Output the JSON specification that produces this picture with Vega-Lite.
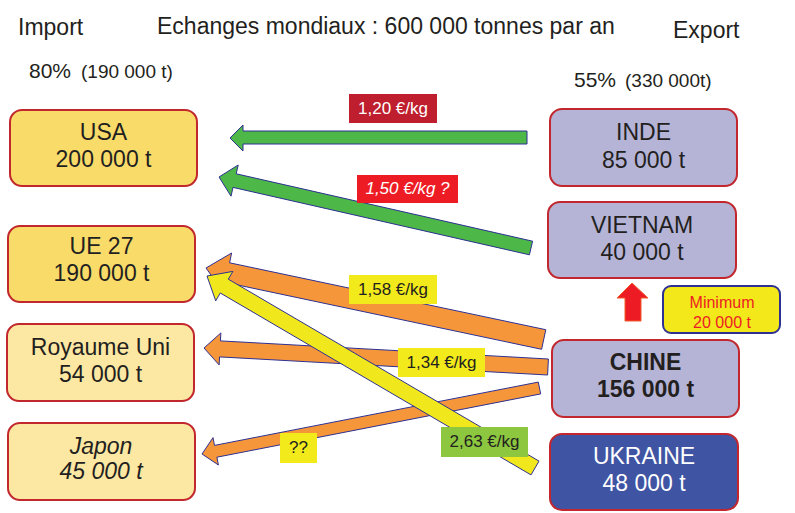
{
  "$schema": "https://vega.github.io/schema/vega-lite/v6.json",
  "width": 795,
  "height": 513,
  "padding": 0,
  "autosize": {"type": "fit", "contains": "padding"},
  "background": "#FFFFFF",
  "config": {"view": {"stroke": null}, "text": {"font": "Liberation Sans"}},
  "resolve": {"scale": {"fill": "independent", "stroke": "independent", "color": "independent"}},
  "datasets": {
    "boxes": [
      {"name": "USA", "x1": 10, "x2": 197, "y1": 110, "y2": 186, "kind": "imp1"},
      {"name": "UE 27", "x1": 8, "x2": 195, "y1": 226, "y2": 302, "kind": "imp1"},
      {"name": "Royaume Uni", "x1": 7, "x2": 194, "y1": 324, "y2": 401, "kind": "imp2"},
      {"name": "Japon", "x1": 8, "x2": 195, "y1": 423, "y2": 500, "kind": "imp2"},
      {"name": "INDE", "x1": 550, "x2": 737, "y1": 109, "y2": 186, "kind": "exp"},
      {"name": "VIETNAM", "x1": 548, "x2": 736, "y1": 202, "y2": 278, "kind": "exp"},
      {"name": "CHINE", "x1": 552, "x2": 739, "y1": 340, "y2": 417, "kind": "exp"},
      {"name": "UKRAINE", "x1": 550, "x2": 738, "y1": 434, "y2": 510, "kind": "ukr"}
    ],
    "minbox": [
      {"x1": 663, "x2": 780, "y1": 286, "y2": 333, "kind": "min"}
    ],
    "arrows": [
      {"id": "inde-usa", "kind": "green", "ord": 1, "x": 527, "y": 131},
      {"id": "inde-usa", "kind": "green", "ord": 2, "x": 243, "y": 131},
      {"id": "inde-usa", "kind": "green", "ord": 3, "x": 243, "y": 125},
      {"id": "inde-usa", "kind": "green", "ord": 4, "x": 230, "y": 138},
      {"id": "inde-usa", "kind": "green", "ord": 5, "x": 243, "y": 151},
      {"id": "inde-usa", "kind": "green", "ord": 6, "x": 243, "y": 144},
      {"id": "inde-usa", "kind": "green", "ord": 7, "x": 527, "y": 144},
      {"id": "inde-usa", "kind": "green", "ord": 8, "x": 527, "y": 131},

      {"id": "vn-usa", "kind": "green", "ord": 1, "x": 532.6, "y": 241.2},
      {"id": "vn-usa", "kind": "green", "ord": 2, "x": 236.2, "y": 173.8},
      {"id": "vn-usa", "kind": "green", "ord": 3, "x": 238.2, "y": 165.0},
      {"id": "vn-usa", "kind": "green", "ord": 4, "x": 219, "y": 177},
      {"id": "vn-usa", "kind": "green", "ord": 5, "x": 231, "y": 196.2},
      {"id": "vn-usa", "kind": "green", "ord": 6, "x": 233, "y": 187.4},
      {"id": "vn-usa", "kind": "green", "ord": 7, "x": 529.4, "y": 254.8},
      {"id": "vn-usa", "kind": "green", "ord": 8, "x": 532.6, "y": 241.2},

      {"id": "cn-ue", "kind": "orange", "ord": 1, "x": 545.8, "y": 329.7},
      {"id": "cn-ue", "kind": "orange", "ord": 2, "x": 229.6, "y": 262.8},
      {"id": "cn-ue", "kind": "orange", "ord": 3, "x": 231.6, "y": 253.0},
      {"id": "cn-ue", "kind": "orange", "ord": 4, "x": 206, "y": 268},
      {"id": "cn-ue", "kind": "orange", "ord": 5, "x": 223.4, "y": 292.2},
      {"id": "cn-ue", "kind": "orange", "ord": 6, "x": 225.4, "y": 282.4},
      {"id": "cn-ue", "kind": "orange", "ord": 7, "x": 541.6, "y": 349.3},
      {"id": "cn-ue", "kind": "orange", "ord": 8, "x": 545.8, "y": 329.7},

      {"id": "cn-ru", "kind": "orange", "ord": 1, "x": 548.4, "y": 359.0},
      {"id": "cn-ru", "kind": "orange", "ord": 2, "x": 220.4, "y": 340.9},
      {"id": "cn-ru", "kind": "orange", "ord": 3, "x": 220.9, "y": 332.9},
      {"id": "cn-ru", "kind": "orange", "ord": 4, "x": 204, "y": 348},
      {"id": "cn-ru", "kind": "orange", "ord": 5, "x": 219.1, "y": 364.9},
      {"id": "cn-ru", "kind": "orange", "ord": 6, "x": 219.6, "y": 356.9},
      {"id": "cn-ru", "kind": "orange", "ord": 7, "x": 547.6, "y": 375.0},
      {"id": "cn-ru", "kind": "orange", "ord": 8, "x": 548.4, "y": 359.0},

      {"id": "cn-jp", "kind": "orange", "ord": 1, "x": 538.3, "y": 382.1},
      {"id": "cn-jp", "kind": "orange", "ord": 2, "x": 214.5, "y": 445.4},
      {"id": "cn-jp", "kind": "orange", "ord": 3, "x": 213.0, "y": 437.6},
      {"id": "cn-jp", "kind": "orange", "ord": 4, "x": 202, "y": 454},
      {"id": "cn-jp", "kind": "orange", "ord": 5, "x": 218.4, "y": 465.0},
      {"id": "cn-jp", "kind": "orange", "ord": 6, "x": 216.9, "y": 457.2},
      {"id": "cn-jp", "kind": "orange", "ord": 7, "x": 540.7, "y": 393.9},
      {"id": "cn-jp", "kind": "orange", "ord": 8, "x": 538.3, "y": 382.1},

      {"id": "vn-up", "kind": "red", "ord": 1, "x": 625, "y": 321},
      {"id": "vn-up", "kind": "red", "ord": 2, "x": 625, "y": 298},
      {"id": "vn-up", "kind": "red", "ord": 3, "x": 617, "y": 298},
      {"id": "vn-up", "kind": "red", "ord": 4, "x": 632, "y": 283},
      {"id": "vn-up", "kind": "red", "ord": 5, "x": 648, "y": 298},
      {"id": "vn-up", "kind": "red", "ord": 6, "x": 641, "y": 298},
      {"id": "vn-up", "kind": "red", "ord": 7, "x": 641, "y": 321},
      {"id": "vn-up", "kind": "red", "ord": 8, "x": 625, "y": 321},

      {"id": "ua-ue", "kind": "yellow", "ord": 1, "x": 539.0, "y": 461.1},
      {"id": "ua-ue", "kind": "yellow", "ord": 2, "x": 228.3, "y": 279.2},
      {"id": "ua-ue", "kind": "yellow", "ord": 3, "x": 232.9, "y": 271.4},
      {"id": "ua-ue", "kind": "yellow", "ord": 4, "x": 207, "y": 276},
      {"id": "ua-ue", "kind": "yellow", "ord": 5, "x": 215.7, "y": 300.8},
      {"id": "ua-ue", "kind": "yellow", "ord": 6, "x": 220.3, "y": 293.0},
      {"id": "ua-ue", "kind": "yellow", "ord": 7, "x": 531.0, "y": 474.9},
      {"id": "ua-ue", "kind": "yellow", "ord": 8, "x": 539.0, "y": 461.1}
    ],
    "tags": [
      {"label": "1,20 €/kg", "x1": 349, "x2": 437, "y1": 94, "y2": 123, "cx": 393, "cy": 108.5, "kind": "darkred"},
      {"label": "1,50 €/kg ?", "x1": 357, "x2": 458, "y1": 175, "y2": 203, "cx": 407.5, "cy": 189, "kind": "red"},
      {"label": "1,58 €/kg", "x1": 349, "x2": 437, "y1": 275, "y2": 304, "cx": 393, "cy": 289.5, "kind": "yellow"},
      {"label": "1,34 €/kg", "x1": 398, "x2": 485, "y1": 348, "y2": 377, "cx": 441.5, "cy": 362.5, "kind": "yellow"},
      {"label": "2,63 €/kg", "x1": 441, "x2": 528, "y1": 427, "y2": 457, "cx": 484.5, "cy": 442, "kind": "green"},
      {"label": "??", "x1": 280, "x2": 317, "y1": 433, "y2": 463, "cx": 298.5, "cy": 448, "kind": "yellow"}
    ],
    "boxtext": [
      {"box": "USA", "text": "USA", "x": 103.5, "y": 133},
      {"box": "USA", "text": "200 000 t", "x": 103.5, "y": 160},
      {"box": "UE 27", "text": "UE 27", "x": 101.5, "y": 247},
      {"box": "UE 27", "text": "190 000 t", "x": 101.5, "y": 274},
      {"box": "Royaume Uni", "text": "Royaume Uni", "x": 100.5, "y": 348},
      {"box": "Royaume Uni", "text": "54 000 t", "x": 100.5, "y": 375},
      {"box": "Japon", "text": "Japon", "x": 101, "y": 447},
      {"box": "Japon", "text": "45 000 t", "x": 101, "y": 472},
      {"box": "INDE", "text": "INDE", "x": 643.5, "y": 133},
      {"box": "INDE", "text": "85 000 t", "x": 643.5, "y": 161},
      {"box": "VIETNAM", "text": "VIETNAM", "x": 642, "y": 226},
      {"box": "VIETNAM", "text": "40 000 t", "x": 642, "y": 253},
      {"box": "CHINE", "text": "CHINE", "x": 645.5, "y": 363},
      {"box": "CHINE", "text": "156 000 t", "x": 645.5, "y": 390},
      {"box": "UKRAINE", "text": "UKRAINE", "x": 644, "y": 457},
      {"box": "UKRAINE", "text": "48 000 t", "x": 644, "y": 484},
      {"box": "Minimum", "text": "Minimum", "x": 722, "y": 303},
      {"box": "Minimum", "text": "20 000 t", "x": 722, "y": 323}
    ],
    "header": [
      {"text": "Import", "x": 18, "y": 35, "level": "h1"},
      {"text": "Echanges mondiaux : 600 000 tonnes par an", "x": 157, "y": 34, "level": "h1"},
      {"text": "Export", "x": 673, "y": 38, "level": "h1"},
      {"text": "80%", "x": 29, "y": 78, "level": "h2"},
      {"text": "(190 000 t)", "x": 81, "y": 78, "level": "h3"},
      {"text": "55%", "x": 574, "y": 87, "level": "h2"},
      {"text": "(330 000t)", "x": 625, "y": 87, "level": "h3"}
    ]
  },
  "layer": [
    {
      "data": {"name": "boxes"},
      "mark": {"type": "rect", "cornerRadius": 12, "strokeWidth": 2, "stroke": "#C1272D"},
      "encoding": {
        "x": {"field": "x1", "type": "quantitative", "scale": {"domain": [0, 795], "nice": false, "zero": false}, "axis": null},
        "x2": {"field": "x2"},
        "y": {"field": "y1", "type": "quantitative", "scale": {"domain": [0, 513], "nice": false, "zero": false, "reverse": true}, "axis": null},
        "y2": {"field": "y2"},
        "fill": {"field": "kind", "type": "nominal", "scale": {"domain": ["imp1", "imp2", "exp", "ukr"], "range": ["#F9DB69", "#FCE8A3", "#B5B4D7", "#3F54A3"]}, "legend": null}
      }
    },
    {
      "data": {"name": "minbox"},
      "mark": {"type": "rect", "cornerRadius": 8, "strokeWidth": 2, "stroke": "#2E3192"},
      "encoding": {
        "x": {"field": "x1", "type": "quantitative", "scale": {"domain": [0, 795], "nice": false, "zero": false}, "axis": null},
        "x2": {"field": "x2"},
        "y": {"field": "y1", "type": "quantitative", "scale": {"domain": [0, 513], "nice": false, "zero": false, "reverse": true}, "axis": null},
        "y2": {"field": "y2"},
        "fill": {"field": "kind", "type": "nominal", "scale": {"domain": ["min"], "range": ["#F2E81A"]}, "legend": null}
      }
    },
    {
      "data": {"name": "arrows"},
      "transform": [{"filter": "datum.kind != 'yellow'"}],
      "mark": {"type": "line", "strokeWidth": 1, "strokeJoin": "miter", "interpolate": "linear"},
      "encoding": {
        "x": {"field": "x", "type": "quantitative", "scale": {"domain": [0, 795], "nice": false, "zero": false}, "axis": null},
        "y": {"field": "y", "type": "quantitative", "scale": {"domain": [0, 513], "nice": false, "zero": false, "reverse": true}, "axis": null},
        "detail": {"field": "id"},
        "order": {"field": "ord", "type": "quantitative"},
        "fill": {"field": "kind", "type": "nominal", "scale": {"domain": ["green", "orange", "red"], "range": ["#4DB748", "#F6963A", "#ED1C24"]}, "legend": null},
        "stroke": {"field": "kind", "type": "nominal", "scale": {"domain": ["green", "orange", "red"], "range": ["#2E3192", "#2E3192", "#F15A29"]}, "legend": null}
      }
    },
    {
      "data": {"name": "arrows"},
      "transform": [{"filter": "datum.kind == 'yellow'"}],
      "mark": {"type": "line", "strokeWidth": 1, "strokeJoin": "miter", "interpolate": "linear"},
      "encoding": {
        "x": {"field": "x", "type": "quantitative", "scale": {"domain": [0, 795], "nice": false, "zero": false}, "axis": null},
        "y": {"field": "y", "type": "quantitative", "scale": {"domain": [0, 513], "nice": false, "zero": false, "reverse": true}, "axis": null},
        "detail": {"field": "id"},
        "order": {"field": "ord", "type": "quantitative"},
        "fill": {"field": "kind", "type": "nominal", "scale": {"domain": ["yellow"], "range": ["#F0E81C"]}, "legend": null},
        "stroke": {"field": "kind", "type": "nominal", "scale": {"domain": ["yellow"], "range": ["#2E3192"]}, "legend": null}
      }
    },
    {
      "data": {"name": "tags"},
      "mark": {"type": "rect"},
      "encoding": {
        "x": {"field": "x1", "type": "quantitative", "scale": {"domain": [0, 795], "nice": false, "zero": false}, "axis": null},
        "x2": {"field": "x2"},
        "y": {"field": "y1", "type": "quantitative", "scale": {"domain": [0, 513], "nice": false, "zero": false, "reverse": true}, "axis": null},
        "y2": {"field": "y2"},
        "fill": {"field": "kind", "type": "nominal", "scale": {"domain": ["darkred", "red", "yellow", "green"], "range": ["#BE1E2D", "#ED1C24", "#F2EA1A", "#8DC63F"]}, "legend": null}
      }
    },
    {
      "data": {"name": "tags"},
      "transform": [{"filter": "datum.label != '1,50 €/kg ?'"}],
      "mark": {"type": "text", "fontSize": 17, "align": "center", "baseline": "middle"},
      "encoding": {
        "x": {"field": "cx", "type": "quantitative", "scale": {"domain": [0, 795], "nice": false, "zero": false}, "axis": null},
        "y": {"field": "cy", "type": "quantitative", "scale": {"domain": [0, 513], "nice": false, "zero": false, "reverse": true}, "axis": null},
        "text": {"field": "label"},
        "color": {"field": "kind", "type": "nominal", "scale": {"domain": ["darkred", "red", "yellow", "green"], "range": ["#FFFFFF", "#FFFFFF", "#231F20", "#231F20"]}, "legend": null}
      }
    },
    {
      "data": {"name": "tags"},
      "transform": [{"filter": "datum.label == '1,50 €/kg ?'"}],
      "mark": {"type": "text", "fontSize": 17, "fontStyle": "italic", "align": "center", "baseline": "middle", "color": "#FFFFFF"},
      "encoding": {
        "x": {"field": "cx", "type": "quantitative", "scale": {"domain": [0, 795], "nice": false, "zero": false}, "axis": null},
        "y": {"field": "cy", "type": "quantitative", "scale": {"domain": [0, 513], "nice": false, "zero": false, "reverse": true}, "axis": null},
        "text": {"field": "label"}
      }
    },
    {
      "data": {"name": "boxtext"},
      "transform": [{"filter": "indexof(['Japon','CHINE','UKRAINE','Minimum'], datum.box) < 0"}],
      "mark": {"type": "text", "fontSize": 23, "align": "center", "baseline": "middle", "color": "#231F20"},
      "encoding": {
        "x": {"field": "x", "type": "quantitative", "scale": {"domain": [0, 795], "nice": false, "zero": false}, "axis": null},
        "y": {"field": "y", "type": "quantitative", "scale": {"domain": [0, 513], "nice": false, "zero": false, "reverse": true}, "axis": null},
        "text": {"field": "text"}
      }
    },
    {
      "data": {"name": "boxtext"},
      "transform": [{"filter": "datum.box == 'Japon'"}],
      "mark": {"type": "text", "fontSize": 23, "fontStyle": "italic", "align": "center", "baseline": "middle", "color": "#231F20"},
      "encoding": {
        "x": {"field": "x", "type": "quantitative", "scale": {"domain": [0, 795], "nice": false, "zero": false}, "axis": null},
        "y": {"field": "y", "type": "quantitative", "scale": {"domain": [0, 513], "nice": false, "zero": false, "reverse": true}, "axis": null},
        "text": {"field": "text"}
      }
    },
    {
      "data": {"name": "boxtext"},
      "transform": [{"filter": "datum.box == 'CHINE'"}],
      "mark": {"type": "text", "fontSize": 23, "fontWeight": "bold", "align": "center", "baseline": "middle", "color": "#231F20"},
      "encoding": {
        "x": {"field": "x", "type": "quantitative", "scale": {"domain": [0, 795], "nice": false, "zero": false}, "axis": null},
        "y": {"field": "y", "type": "quantitative", "scale": {"domain": [0, 513], "nice": false, "zero": false, "reverse": true}, "axis": null},
        "text": {"field": "text"}
      }
    },
    {
      "data": {"name": "boxtext"},
      "transform": [{"filter": "datum.box == 'UKRAINE'"}],
      "mark": {"type": "text", "fontSize": 23, "align": "center", "baseline": "middle", "color": "#FFFFFF"},
      "encoding": {
        "x": {"field": "x", "type": "quantitative", "scale": {"domain": [0, 795], "nice": false, "zero": false}, "axis": null},
        "y": {"field": "y", "type": "quantitative", "scale": {"domain": [0, 513], "nice": false, "zero": false, "reverse": true}, "axis": null},
        "text": {"field": "text"}
      }
    },
    {
      "data": {"name": "boxtext"},
      "transform": [{"filter": "datum.box == 'Minimum'"}],
      "mark": {"type": "text", "fontSize": 16, "align": "center", "baseline": "middle", "color": "#ED1C24"},
      "encoding": {
        "x": {"field": "x", "type": "quantitative", "scale": {"domain": [0, 795], "nice": false, "zero": false}, "axis": null},
        "y": {"field": "y", "type": "quantitative", "scale": {"domain": [0, 513], "nice": false, "zero": false, "reverse": true}, "axis": null},
        "text": {"field": "text"}
      }
    },
    {
      "data": {"name": "header"},
      "transform": [{"filter": "datum.level == 'h1'"}],
      "mark": {"type": "text", "fontSize": 23, "align": "left", "baseline": "alphabetic", "color": "#231F20"},
      "encoding": {
        "x": {"field": "x", "type": "quantitative", "scale": {"domain": [0, 795], "nice": false, "zero": false}, "axis": null},
        "y": {"field": "y", "type": "quantitative", "scale": {"domain": [0, 513], "nice": false, "zero": false, "reverse": true}, "axis": null},
        "text": {"field": "text"}
      }
    },
    {
      "data": {"name": "header"},
      "transform": [{"filter": "datum.level == 'h2'"}],
      "mark": {"type": "text", "fontSize": 21, "align": "left", "baseline": "alphabetic", "color": "#231F20"},
      "encoding": {
        "x": {"field": "x", "type": "quantitative", "scale": {"domain": [0, 795], "nice": false, "zero": false}, "axis": null},
        "y": {"field": "y", "type": "quantitative", "scale": {"domain": [0, 513], "nice": false, "zero": false, "reverse": true}, "axis": null},
        "text": {"field": "text"}
      }
    },
    {
      "data": {"name": "header"},
      "transform": [{"filter": "datum.level == 'h3'"}],
      "mark": {"type": "text", "fontSize": 19, "align": "left", "baseline": "alphabetic", "color": "#231F20"},
      "encoding": {
        "x": {"field": "x", "type": "quantitative", "scale": {"domain": [0, 795], "nice": false, "zero": false}, "axis": null},
        "y": {"field": "y", "type": "quantitative", "scale": {"domain": [0, 513], "nice": false, "zero": false, "reverse": true}, "axis": null},
        "text": {"field": "text"}
      }
    }
  ]
}
